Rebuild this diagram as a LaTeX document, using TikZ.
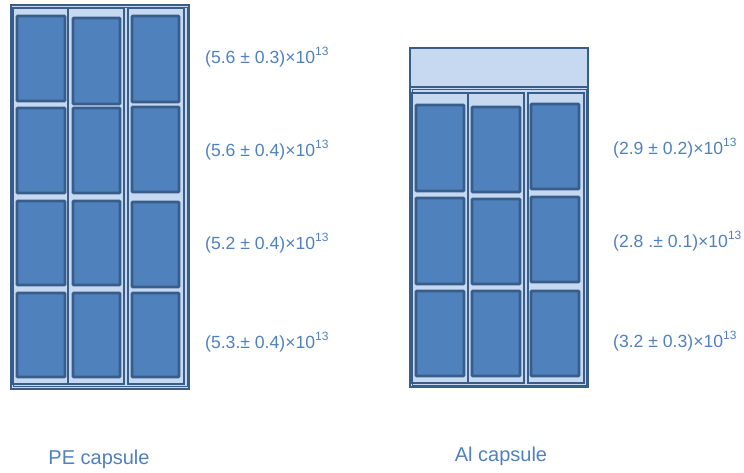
\documentclass[tikz,border=0pt]{standalone}
\usepackage{fontspec}
\setmainfont{Liberation Sans}
\definecolor{cellfill}{HTML}{4F81BD}
\definecolor{celldraw}{HTML}{385D8A}
\definecolor{lightfill}{HTML}{C6D9F1}
\definecolor{txt}{HTML}{4F81BD}
\newcommand{\expo}[1]{\raisebox{0.45em}{\fontsize{12}{13}\selectfont #1}}
\begin{document}
\begin{tikzpicture}[x=1pt,y=-1pt,
  capsule/.style={draw=celldraw,fill=lightfill,line width=2.6pt},
  inner/.style={draw=celldraw,line width=1pt},
  column/.style={draw=celldraw,fill=lightfill,line width=1.4pt},
  cell/.style={draw=celldraw,fill=cellfill,line width=2.9pt,rounded corners=1pt},
  val/.style={text=txt,anchor=west,inner sep=0pt,font=\fontsize{17.6}{20}\selectfont},
  captext/.style={text=txt,inner sep=0pt,font=\fontsize{20}{24}\selectfont}]
\useasboundingbox (0,0) rectangle (744,472);
% ---------- PE capsule ----------
\draw[capsule] (11,5) rectangle (189,389);
\draw[inner] (13,7.5) rectangle (187,386);
\draw[column] (13,8) rectangle (68,384);
\draw[column] (68,8) rectangle (124,384);
\draw[column] (128,8) rectangle (184,384);
% column 1
\draw[cell] (17,16) rectangle (65,101);
\draw[cell] (17,108) rectangle (65,193);
\draw[cell] (17,201) rectangle (65,285);
\draw[cell] (17,293) rectangle (65,377);
% column 2
\draw[cell] (73,18) rectangle (120,104);
\draw[cell] (73,108) rectangle (120,193);
\draw[cell] (73,201) rectangle (120,285);
\draw[cell] (73,293) rectangle (120,377);
% column 3
\draw[cell] (132,16) rectangle (179,102);
\draw[cell] (132,107) rectangle (179,192);
\draw[cell] (132,202) rectangle (179,287);
\draw[cell] (132,293) rectangle (179,377);
% labels
\node[val] (pe1) at (205,57) {(5.6 ± 0.3)×10\expo{13}};
\node[val] (pe2) at (205,150) {(5.6 ± 0.4)×10\expo{13}};
\node[val] (pe3) at (205,243) {(5.2 ± 0.4)×10\expo{13}};
\node[val] (pe4) at (205,342) {(5.3.± 0.4)×10\expo{13}};
\node[captext] (pecap) at (99,459) {PE capsule};
% ---------- Al capsule ----------
\draw[capsule] (410,48) rectangle (588,87);
\draw[capsule] (410,87) rectangle (588,387);
\draw[inner] (412,89) rectangle (586,385);
\draw[column] (412,93) rectangle (468,383);
\draw[column] (468,93) rectangle (524,383);
\draw[column] (528,93) rectangle (584,383);
% column 1
\draw[cell] (416,105) rectangle (464,191);
\draw[cell] (416,198) rectangle (464,284);
\draw[cell] (416,291) rectangle (464,376);
% column 2
\draw[cell] (472,107) rectangle (520,192);
\draw[cell] (472,199) rectangle (520,284);
\draw[cell] (472,291) rectangle (520,376);
% column 3
\draw[cell] (531,104) rectangle (579,189);
\draw[cell] (531,197) rectangle (579,282);
\draw[cell] (531,291) rectangle (579,376);
% labels
\node[val] (al1) at (613,148) {(2.9 ± 0.2)×10\expo{13}};
\node[val] (al2) at (613,241) {(2.8 .± 0.1)×10\expo{13}};
\node[val] (al3) at (613,341) {(3.2 ± 0.3)×10\expo{13}};
\node[captext] (alcap) at (501,456) {Al capsule};
\end{tikzpicture}
\end{document}
